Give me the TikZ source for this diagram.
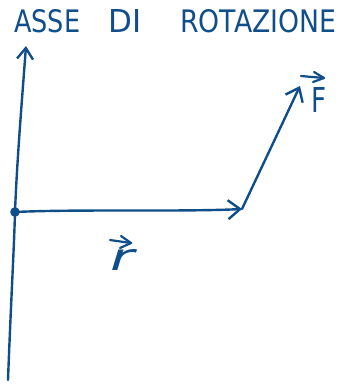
\documentclass[tikz,border=0pt]{standalone}
\usepackage{fontspec}
\setmainfont{DejaVu Sans}
\usetikzlibrary{arrows.meta}
\definecolor{ink}{RGB}{16,78,138}
\begin{document}
\begin{tikzpicture}[x=1pt,y=-1pt,
  pen/.style={draw=ink,line width=2.4pt,line cap=round,line join=round},
  vec/.style={pen,-{Straight Barb[length=12pt,width=19pt,line width=2.4pt]}},
  lbl/.style={text=ink,inner sep=0pt}]
\useasboundingbox (0,0) rectangle (347,384);
\coordinate (bot) at (8,380);
\coordinate (O) at (15,212);
\coordinate (top) at (26,46);
\coordinate (P) at (242,209);
\coordinate (Ftip) at (300,86);
% axis
\draw[pen,-{Straight Barb[length=11pt,width=16pt,line width=2.4pt]}] (bot) .. controls (11,300) and (14,250) .. (O) .. controls (17,160) and (22,100) .. (top);
\fill[ink] (O) circle (4.8);
% r vector
\draw[vec] (O) .. controls (80,209) and (180,212) .. (P);
% F vector
\draw[vec] (P) -- (Ftip);
% labels
\node[lbl,anchor=north west] (t1) at (14,9) {\resizebox{66pt}{23pt}{ASSE}};
\node[lbl,anchor=north west] (t2) at (108,9) {\resizebox{33pt}{23pt}{DI}};
\node[lbl,anchor=north west] (t3) at (180,9) {\resizebox{156pt}{23pt}{ROTAZIONE}};
\node[lbl,anchor=north west] (F) at (311,87) {\resizebox{15pt}{25pt}{F}};
\draw[pen,line width=2.2pt] (301,76) -- (324,78);
\draw[pen,line width=2.2pt] (314,72) -- (324,78) -- (313,82);
\node[lbl,anchor=north west] (r) at (110,249) {\resizebox{24pt}{21pt}{\itshape r}};
\draw[pen,line width=2.2pt] (110,240) -- (131,243);
\draw[pen,line width=2.2pt] (121,236) -- (131,243) -- (120,248);
\end{tikzpicture}
\end{document}
